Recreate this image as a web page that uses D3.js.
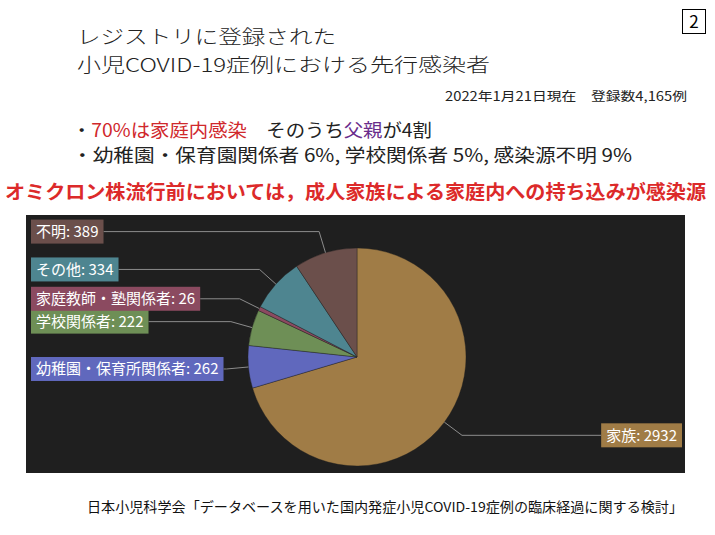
<!DOCTYPE html>
<html lang="ja">
<head>
<meta charset="UTF-8">
<title>先行感染者</title>
<script src="https://cdn.jsdelivr.net/npm/d3@7"></script>
<style>
  html, body { margin: 0; padding: 0; background: #fff; }
  svg { display: block; }
  text { font-family: "Noto Sans CJK JP", "Noto Sans", sans-serif; }
</style>
</head>
<body>
<svg id="slide" width="715" height="535"></svg>
<script>
// data
var categories = ["家族", "幼稚園・保育所関係者", "学校関係者", "家庭教師・塾関係者", "その他", "不明"];
var values = [2932, 262, 222, 26, 334, 389];
var colors = ["#a07c46", "#6068bd", "#6e8f56", "#8b4a60", "#4e8590", "#6b4f4b"];

var titleLines = ["レジストリに登録された", "小児COVID-19症例における先行感染者"];
var dateNote = "2022年1月21日現在　登録数4,165例";
var sourceNote = "日本小児科学会「データベースを用いた国内発症小児COVID-19症例の臨床経過に関する検討」";

var svg = d3.select("#slide");

/* page number box */
svg.append("rect")
  .attr("x", 682.5).attr("y", 9.5).attr("width", 23).attr("height", 24)
  .attr("fill", "none").attr("stroke", "#000").attr("stroke-width", 1);
svg.append("text")
  .attr("x", 694).attr("y", 28).attr("text-anchor", "middle")
  .attr("font-size", 17).text("2");

/* title */
svg.selectAll("text.title")
  .data(titleLines)
  .enter()
  .append("text")
  .attr("class", "title")
  .attr("x", 77)
  .attr("y", function(d, i) { return 44 + i * 28; })
  .attr("font-size", 19)
  .attr("font-weight", 300)
  .attr("fill", "#222")
  .attr("textLength", function(d, i) { return i == 0 ? 259 : 413; })
  .attr("lengthAdjust", "spacingAndGlyphs")
  .text(function(d) { return d; });

svg.append("text")
  .attr("x", 445).attr("y", 101)
  .attr("font-size", 12.5).attr("fill", "#222")
  .attr("textLength", 242).attr("lengthAdjust", "spacingAndGlyphs")
  .text(dateNote);

/* bullets */
var b1 = svg.append("text")
  .attr("x", 72).attr("y", 137)
  .attr("font-size", 18).attr("fill", "#222")
  .attr("textLength", 360).attr("lengthAdjust", "spacingAndGlyphs");
b1.append("tspan").text("・");
b1.append("tspan").attr("fill", "#d0282c").text("70%は家庭内感染");
b1.append("tspan").text("　そのうち");
b1.append("tspan").attr("fill", "#6a2c8c").text("父親");
b1.append("tspan").text("が4割");

svg.append("text")
  .attr("x", 72).attr("y", 162)
  .attr("font-size", 18).attr("fill", "#222")
  .attr("textLength", 560).attr("lengthAdjust", "spacingAndGlyphs")
  .text("・幼稚園・保育園関係者 6%,  学校関係者 5%, 感染源不明 9%");

svg.append("text")
  .attr("x", 5).attr("y", 199)
  .attr("font-size", 19).attr("font-weight", "bold").attr("fill", "#dc2a2a")
  .attr("textLength", 701).attr("lengthAdjust", "spacingAndGlyphs")
  .text("オミクロン株流行前においては，成人家族による家庭内への持ち込みが感染源");

/* dark chart panel */
var panel = { x: 26, y: 215, w: 659, h: 258 };
svg.append("rect")
  .attr("x", panel.x).attr("y", panel.y)
  .attr("width", panel.w).attr("height", panel.h)
  .attr("fill", "#1f1f1f");

var cx = 357, cy = 357, r = 109, lineLen = 22;
var leftX = 31, rightX = 682, boxH = 24, padX = 5;

var pie = d3.pie().sort(null).value(function(d) { return d.value; });
var arcs = pie(categories.map(function(c, i) {
  return { name: c, value: values[i], color: colors[i] };
}));
var arc = d3.arc().innerRadius(0).outerRadius(r);

var g = svg.append("g").attr("transform", "translate(" + cx + "," + cy + ")");

g.selectAll("path.slice")
  .data(arcs)
  .enter()
  .append("path")
  .attr("class", "slice")
  .attr("d", arc)
  .attr("fill", function(d) { return d.data.color; })
  .attr("stroke", "#1f1f1f")
  .attr("stroke-width", 0.4);

function point(a, rad) {
  return [rad * Math.sin(a), -rad * Math.cos(a)];
}

var labels = g.selectAll("g.label")
  .data(arcs)
  .enter()
  .append("g")
  .attr("class", "label");

labels.each(function(d) {
  var sel = d3.select(this);
  var mid = (d.startAngle + d.endAngle) / 2;
  var right = mid < Math.PI;
  var p1 = point(mid, r);
  var p2 = point(mid, r + lineLen);

  var txt = sel.append("text")
    .attr("font-size", 15)
    .attr("fill", "#fff")
    .text(d.data.name + ": " + d.data.value);
  var w = txt.node().getComputedTextLength() + padX * 2;

  var boxX = right ? rightX - cx - w : leftX - cx;
  var endX = right ? boxX : boxX + w;

  sel.insert("path", "text")
    .attr("d", d3.line()([p1, p2, [endX, p2[1]]]))
    .attr("fill", "none")
    .attr("stroke", "#8c8c8c")
    .attr("stroke-width", 1);

  sel.insert("rect", "text")
    .attr("x", boxX).attr("y", p2[1] - boxH / 2)
    .attr("width", w).attr("height", boxH)
    .attr("fill", d.data.color);

  txt.attr("x", boxX + padX).attr("y", p2[1] + 5.5);
});

/* source */
svg.append("text")
  .attr("x", 87).attr("y", 512)
  .attr("font-size", 13.5).attr("fill", "#111")
  .attr("textLength", 596).attr("lengthAdjust", "spacingAndGlyphs")
  .text(sourceNote);
</script>
</body>
</html>
